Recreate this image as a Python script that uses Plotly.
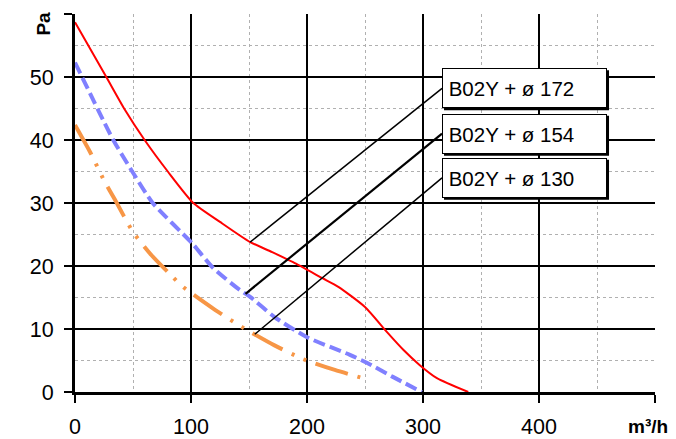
import numpy as np
import plotly.graph_objects as go

# ---- data ----
x_172 = [0, 27, 43, 60, 80, 102, 125, 151, 170, 188, 213, 227, 250, 269, 283, 297, 312, 339]
y_172 = [58.7, 50, 44.8, 40, 35, 30, 27, 23.8, 22.2, 20.6, 18.1, 16.7, 13.5, 9.5, 6.7, 4.3, 2.2, 0]

x_154 = [0, 33, 50, 67, 101, 119, 142, 151, 172, 200, 237, 252, 274, 299]
y_154 = [52.3, 40, 34.8, 30, 23.6, 19.7, 16.2, 15.1, 11.9, 8.7, 5.9, 4.6, 2.4, 0]

x_130 = [0, 13, 25, 34.5, 50, 66, 84, 93, 121, 144, 172, 197, 224, 250]
y_130 = [42.4, 38.1, 33.6, 30.5, 25.4, 21.7, 18.3, 16.7, 13.0, 10.3, 7.4, 5.2, 3.5, 2.1]

labels = ["B02Y + ø 172", "B02Y + ø 154", "B02Y + ø 130"]
anchor_x = [151, 147, 155]          # where the leader lines touch each curve
x_ticks = [0, 100, 200, 300, 400, 500]
x_tick_text = ["0", "100", "200", "300", "400", ""]
y_ticks = [0, 10, 20, 30, 40, 50, 60]
y_tick_text = ["0", "10", "20", "30", "40", "50", ""]

FONT = "Arial, Liberation Sans, sans-serif"
series = [
    (x_172, y_172, dict(color="#ff0000", width=2, dash="solid")),
    (x_154, y_154, dict(color="#8080ff", width=4, dash="12px,5px")),
    (x_130, y_130, dict(color="#f79646", width=4, dash="34px,10px,3px,10px,3px,10px")),
]
leader_widths = [1.5, 2.2, 1.5]

fig = go.Figure()
for (xs, ys, ln), name in zip(series, labels):
    fig.add_trace(go.Scatter(x=xs, y=ys, mode="lines", name=name,
                             line=dict(shape="spline", smoothing=0.6, **ln),
                             showlegend=False, hoverinfo="skip"))

# label boxes
box_left = 316.4
box_y = [48.2, 41.0, 34.0]
for (xs, ys, ln), lab, ax, by, lw in zip(series, labels, anchor_x, box_y, leader_widths):
    ay = float(np.interp(ax, xs, ys))
    fig.add_trace(go.Scatter(x=[ax, box_left], y=[ay, by], mode="lines",
                             line=dict(color="black", width=lw),
                             showlegend=False, hoverinfo="skip"))
    # shadow
    fig.add_shape(type="rect", xref="x", yref="y", xsizemode="pixel", ysizemode="pixel",
                  xanchor=box_left, yanchor=by, x0=2, x1=167, y0=-22, y1=18,
                  fillcolor="black", line=dict(width=0), layer="above")
    fig.add_annotation(x=box_left, y=by, xref="x", yref="y", text="&nbsp;" + lab,
                       showarrow=False, xanchor="left", yanchor="middle",
                       width=163, height=38, align="left",
                       bgcolor="white", bordercolor="black", borderwidth=1, borderpad=0,
                       font=dict(family=FONT, size=20.5, color="black"))

fig.add_annotation(x=-0.055, y=0.975, xref="paper", yref="paper", text="<b>Pa</b>",
                   showarrow=False, textangle=-90, xanchor="center", yanchor="middle",
                   font=dict(family=FONT, size=19, color="black"))
fig.add_annotation(x=0.988, y=-0.092, xref="paper", yref="paper", text="<b>m³/h</b>",
                   showarrow=False, xanchor="center", yanchor="middle",
                   font=dict(family=FONT, size=19, color="black"))

fig.update_layout(
    width=676, height=439,
    margin=dict(l=75, r=21, t=14, b=47, autoexpand=False),
    paper_bgcolor="white", plot_bgcolor="white",
    font=dict(family=FONT, size=21.5, color="black"),
)
fig.update_xaxes(range=[0, 500], tickvals=x_ticks, ticktext=x_tick_text, ticks="outside",
                 ticklen=8, tickwidth=1.5, tickcolor="black", showline=True,
                 linecolor="black", linewidth=2.5, showgrid=True, gridcolor="black",
                 gridwidth=1.5, zeroline=False, ticklabelstandoff=5, automargin=False,
                 minor=dict(dtick=50, tick0=0, showgrid=True, gridcolor="#b0b0b0",
                            griddash="dot", gridwidth=1.2, ticks=""),
                 tickfont=dict(size=21.5))
fig.update_yaxes(range=[0, 60], tickvals=y_ticks, ticktext=y_tick_text, ticks="outside",
                 ticklen=8, tickwidth=1.5, tickcolor="black", showline=True,
                 linecolor="black", linewidth=3, showgrid=True, gridcolor="black",
                 gridwidth=1.5, zeroline=False, ticklabelstandoff=6, automargin=False,
                 minor=dict(dtick=5, tick0=0, showgrid=True, gridcolor="#b0b0b0",
                            griddash="dot", gridwidth=1.2, ticks=""),
                 tickfont=dict(size=21.5))

fig.write_html("out.html", config={"displayModeBar": False},
               post_script="document.body.style.margin='0';document.body.style.overflow='hidden';")
